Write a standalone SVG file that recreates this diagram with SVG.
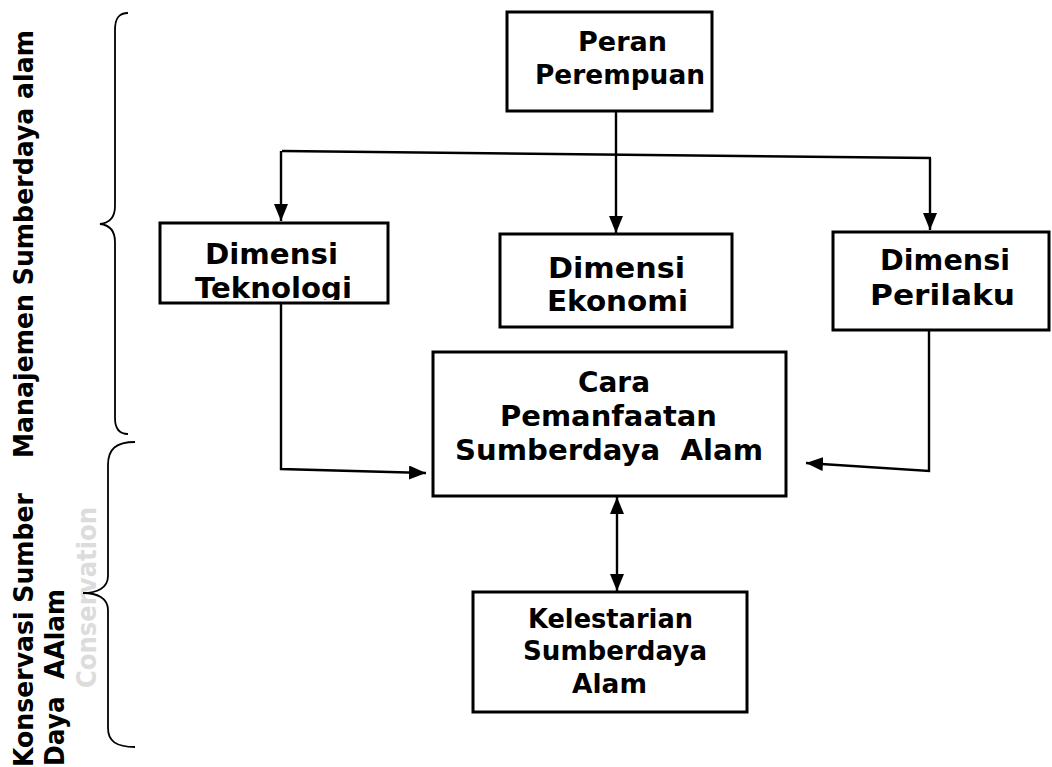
<svg xmlns="http://www.w3.org/2000/svg" width="1052" height="767" viewBox="0 0 1052 767">
<style>
.box{fill:#fff;stroke:#000;stroke-width:3}
.t{font-family:"DejaVu Sans","Verdana",sans-serif;font-weight:bold;font-size:29px;fill:#000}
.s{font-size:26px}
.v{font-family:"DejaVu Sans","Verdana",sans-serif;font-weight:bold;font-size:27px;fill:#000}
.g{fill:#dcdcdc}
.ln{fill:none;stroke:#000;stroke-width:2.4}
.br{fill:none;stroke:#000;stroke-width:1.8}
</style>
<defs>
<marker id="ah" viewBox="0 0 17 14" refX="17" refY="7" markerWidth="17" markerHeight="14" markerUnits="userSpaceOnUse" orient="auto-start-reverse">
<path d="M0,0 L17,7 L0,14 Z" fill="#000"/>
</marker>
<clipPath id="cT"><rect x="161" y="224" width="226" height="76"/></clipPath>
</defs>
<rect width="1052" height="767" fill="#fff"/>

<g id="labels">
<text class="v" transform="translate(33,458) rotate(-90)" textLength="428" lengthAdjust="spacingAndGlyphs">Manajemen Sumberdaya alam</text>
<text class="v" transform="translate(33,767) rotate(-90)" textLength="274" lengthAdjust="spacingAndGlyphs">Konservasi Sumber</text>
<text class="v" transform="translate(64,766) rotate(-90)" xml:space="preserve" textLength="177" lengthAdjust="spacingAndGlyphs">Daya  AAlam</text>
<text class="v g" transform="translate(96,688) rotate(-90)" textLength="181" lengthAdjust="spacingAndGlyphs">Conservation</text>
</g>

<g id="braces">
<path class="br" d="M128,13 C119,13 115,18 115,30 L115,206 C115,218 109,223 100,224 C109,225 115,230 115,242 L115,418 C115,429 119,434 128,434"/>
<path class="br" d="M135,442 C116,442 108,449 108,465 L108,576 C108,588 97,593 83,593 C97,593 108,598 108,610 L108,728 C108,741 116,747 135,747"/>
</g>

<g id="connectors">
<line class="ln" x1="616" y1="110" x2="616" y2="233" marker-end="url(#ah)"/>
<line class="ln" x1="282" y1="151" x2="931" y2="158"/>
<line class="ln" x1="281" y1="151" x2="281" y2="221" marker-end="url(#ah)"/>
<line class="ln" x1="930" y1="158" x2="930" y2="230" marker-end="url(#ah)"/>
<polyline class="ln" points="281,303 281,469 426,473" marker-end="url(#ah)"/>
<polyline class="ln" points="929,331 929,471 806,463" marker-end="url(#ah)"/>
<line class="ln" x1="617" y1="497" x2="617" y2="591" marker-start="url(#ah)" marker-end="url(#ah)"/>
</g>

<g id="peran">
<rect class="box" x="507" y="12" width="205" height="99"/>
<text class="t s" x="578" y="51" textLength="89" lengthAdjust="spacingAndGlyphs">Peran</text>
<text class="t s" x="535" y="84" textLength="170" lengthAdjust="spacingAndGlyphs">Perempuan</text>
</g>

<g id="teknologi">
<rect class="box" x="160" y="223" width="228" height="80"/>
<g clip-path="url(#cT)">
<text class="t" x="205" y="264" textLength="133" lengthAdjust="spacingAndGlyphs">Dimensi</text>
<text class="t" x="195" y="298" textLength="157" lengthAdjust="spacingAndGlyphs">Teknologi</text>
</g>
</g>

<g id="ekonomi">
<rect class="box" x="500" y="234" width="232" height="93"/>
<text class="t" x="548" y="278" textLength="137" lengthAdjust="spacingAndGlyphs">Dimensi</text>
<text class="t" x="547" y="311" textLength="141" lengthAdjust="spacingAndGlyphs">Ekonomi</text>
</g>

<g id="perilaku">
<rect class="box" x="833" y="232" width="216" height="98"/>
<text class="t" x="880" y="270" textLength="130" lengthAdjust="spacingAndGlyphs">Dimensi</text>
<text class="t" x="870" y="305" textLength="145" lengthAdjust="spacingAndGlyphs">Perilaku</text>
</g>

<g id="cara">
<rect class="box" x="433" y="352" width="353" height="144"/>
<text class="t" x="578" y="392" textLength="72" lengthAdjust="spacingAndGlyphs">Cara</text>
<text class="t" x="500" y="426" textLength="217" lengthAdjust="spacingAndGlyphs">Pemanfaatan</text>
<text class="t" x="455" y="460" xml:space="preserve" textLength="308" lengthAdjust="spacingAndGlyphs">Sumberdaya  Alam</text>
</g>

<g id="kelestarian">
<rect class="box" x="473" y="592" width="274" height="120"/>
<text class="t s" x="528" y="628" textLength="165" lengthAdjust="spacingAndGlyphs">Kelestarian</text>
<text class="t s" x="523" y="660" textLength="184" lengthAdjust="spacingAndGlyphs">Sumberdaya</text>
<text class="t s" x="572" y="693" textLength="75" lengthAdjust="spacingAndGlyphs">Alam</text>
</g>
</svg>
